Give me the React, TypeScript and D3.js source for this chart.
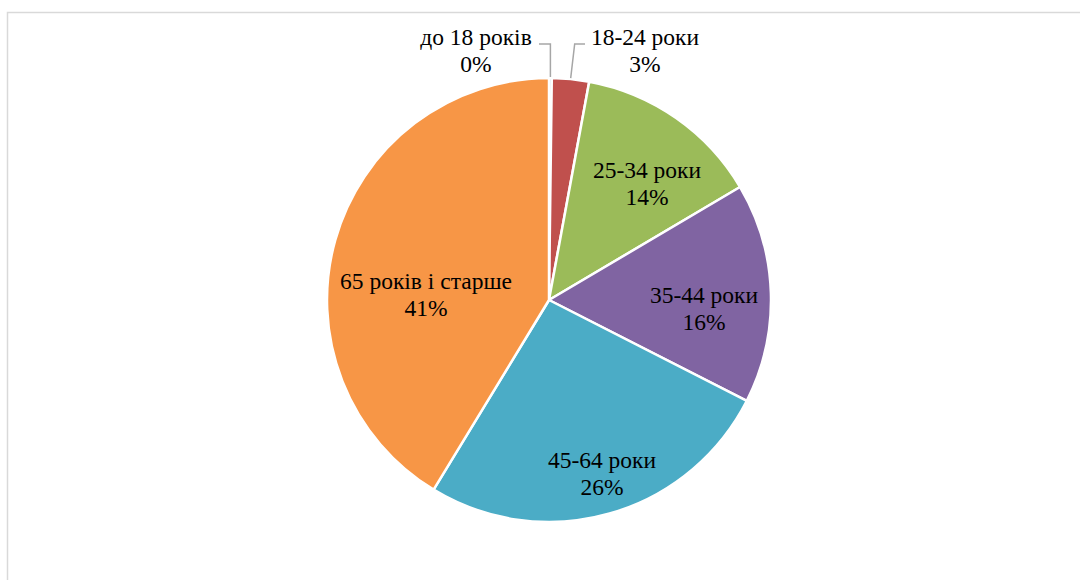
import React from 'react';
import * as d3 from 'd3';

// age groups and their shares (percent)
const categories = ['до 18 років', '18-24 роки', '25-34 роки', '35-44 роки', '45-64 роки', '65 років і старше'];
const values = [0.2, 2.7, 13.6, 16.0, 26.2, 41.3];
const shownPercent = ['0%', '3%', '14%', '16%', '26%', '41%'];
const colors = ['#4F81BD', '#C0504D', '#9BBB59', '#8064A2', '#4BACC6', '#F79646'];

// label placement relative to pie centre: dx = text centre, dy = first baseline
const labelPos = [
  { dx: -73, dy: -255, outside: true },
  { dx: 96, dy: -255, outside: true },
  { dx: 98, dy: -122, outside: false },
  { dx: 155, dy: 3, outside: false },
  { dx: 53, dy: 168, outside: false },
  { dx: -123, dy: -11, outside: false },
];

const W = 1080;
const H = 580;
const cx = 549;
const cy = 300;
const R = 222;
const fontSize = 23.5;
const lineGap = 26.5;
const textStyle = { fontFamily: 'Liberation Serif', fontSize: fontSize };

const App: React.FC = () => {
  const pie = d3.pie<number>().sort(null).value(d => d);
  const arcs = pie(values);
  const arc = d3.arc<d3.PieArcDatum<number>>().innerRadius(0).outerRadius(R);

  // leader lines for the outside labels
  const leader = (i: number) => {
    const a = arcs[i];
    const mid = (a.startAngle + a.endAngle) / 2;
    const ex = cx + Math.sin(mid) * (R + 1);
    const ey = cy - Math.cos(mid) * (R + 1);
    const ly = cy + labelPos[i].dy - 1;
    const isLeft = labelPos[i].dx < 0;
    const tx = isLeft ? cx + labelPos[i].dx + 63 : cx + labelPos[i].dx - 60;
    const kx = isLeft ? ex : ex + 4;
    return `M${tx},${ly}L${kx},${ly}L${ex},${ey}`;
  };

  return (
    <div style={{ position: 'absolute', left: 0, top: 0 }}>
      <svg width={W} height={H} style={{ display: 'block', background: '#fff', fontFamily: 'Liberation Serif' }}>
        <rect x={7.5} y={12.5} width={W + 20} height={H + 20} fill="#fff" stroke="#d9d9d9" strokeWidth={1.5} />
        <g transform={`translate(${cx},${cy})`}>
          {arcs.map((a, i) => (
            <path key={i} d={arc(a) || ''} fill={colors[i]} stroke="#fff" strokeWidth={2.5} strokeLinejoin="round" />
          ))}
        </g>
        {labelPos.map((p, i) => p.outside ? (
          <path key={'l' + i} d={leader(i)} fill="none" stroke="#a6a6a6" strokeWidth={1.5} />
        ) : null)}
        {labelPos.map((p, i) => (
          <g key={'t' + i}>
            <text x={cx + p.dx} y={cy + p.dy} textAnchor="middle" style={textStyle} fill="#000">
              {categories[i]}
            </text>
            <text x={cx + p.dx} y={cy + p.dy + lineGap} textAnchor="middle" style={textStyle} fill="#000">
              {shownPercent[i]}
            </text>
          </g>
        ))}
      </svg>
    </div>
  );
};

export default App;
